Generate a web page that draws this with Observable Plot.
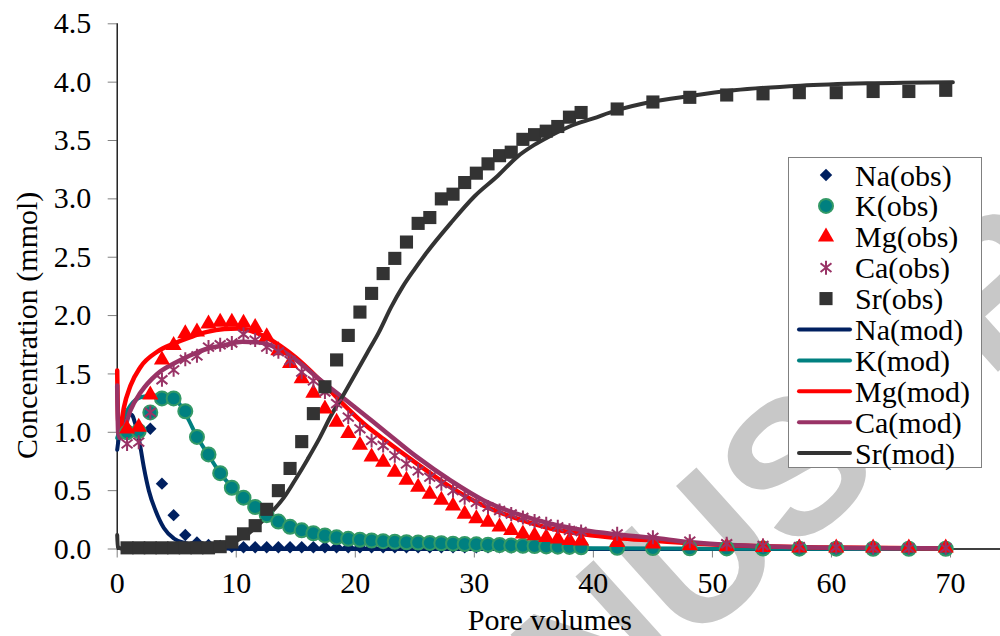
<!DOCTYPE html>
<html><head><meta charset="utf-8">
<script src="https://cdn.jsdelivr.net/npm/d3@7"></script>
<script src="https://cdn.jsdelivr.net/npm/@observablehq/plot@0.6"></script>
<style>
html,body{margin:0;padding:0;background:#fff;}
#wrap{position:relative;width:1000px;height:636px;overflow:hidden;font-family:'Liberation Serif','Times New Roman',serif;}
#wm,#chart,#legend{position:absolute;}
#wm{left:0;top:0;}
#chart{left:0;top:0;}
#legend{left:788px;top:157px;overflow:visible;}
svg text{font-family:'Liberation Serif','Times New Roman',serif;}
#wm text{font-family:'Liberation Sans',Arial,sans-serif;}
</style></head><body><div id="wrap"><svg id="wm" width="1000" height="636"></svg><div id="chart"></div><svg id="legend" width="205" height="312"></svg></div>
<script>
// ---------- data ----------
const xObs = [0.83,1.81,2.78,3.76,4.74,5.72,6.7,7.67,8.65,9.63,10.61,11.59,12.56,13.54,14.52,15.5,16.48,17.45,18.43,19.41,
  20.39,21.37,22.34,23.32,24.3,25.28,26.26,27.23,28.21,29.19,30.17,31.15,32.12,33.1,34.08,35.06,36.04,37.01,37.99,38.97,
  42.0,45.0,48.1,51.2,54.25,57.3,60.4,63.5,66.5,69.6];
const naObs = [0.98,1.0,1.03,0.56,0.29,0.12,0.055,0.035,0.025,0.02,
  0.015,0.015,0.015,0.015,0.015,0.015,0.015,0.015,0.015,0.015,
  0.015,0.015,0.015,0.015,0.015,0.015,0.015,0.015,0.015,0.015,
  0.015,0.015,0.015,0.015,0.015,0.015,0.015,0.015,0.015,0.015,
  0.005,0.005,0.005,0.005,0.005,0.005,0.005,0.005,0.005,0.005];
const kObs = [1.0,1.01,1.17,1.29,1.29,1.18,0.96,0.81,0.65,0.525,
  0.44,0.36,0.29,0.235,0.19,0.16,0.135,0.116,0.10,0.087,
  0.079,0.073,0.067,0.062,0.058,0.055,0.052,0.049,0.046,0.043,
  0.04,0.037,0.034,0.031,0.028,0.025,0.022,0.02,0.018,0.015,
  0.01,0.008,0.006,0.005,0.004,0.003,0.003,0.002,0.002,0.002];
const mgObs = [1.03,1.045,1.32,1.62,1.745,1.845,1.86,1.93,1.945,1.945,
  1.935,1.90,1.82,1.70,1.59,1.46,1.335,1.20,1.087,0.99,
  0.89,0.79,0.745,0.66,0.59,0.53,0.47,0.42,0.37,0.30,
  0.26,0.23,0.19,0.16,0.13,0.116,0.10,0.087,0.075,0.07,
  0.058,0.045,0.03,0.02,0.015,0.01,0.01,0.01,0.01,0.01];
const caObs = [0.90,0.915,1.17,1.45,1.535,1.625,1.655,1.73,1.75,1.765,
  1.84,1.79,1.73,1.69,1.615,1.515,1.44,1.345,1.245,1.13,
  1.03,0.93,0.887,0.80,0.73,0.67,0.615,0.56,0.50,0.44,
  0.40,0.36,0.33,0.30,0.27,0.24,0.216,0.19,0.16,0.15,
  0.13,0.10,0.067,0.045,0.03,0.02,0.015,0.01,0.01,0.01];
const srObs = [0.01,0.01,0.01,0.01,0.01,0.01,0.01,0.01,0.02,0.06,
  0.13,0.20,0.34,0.50,0.69,0.92,1.16,1.39,1.62,1.83,
  2.03,2.19,2.36,2.49,2.63,2.79,2.84,3.00,3.04,3.14,
  3.22,3.30,3.37,3.40,3.51,3.55,3.58,3.62,3.70,3.74,
  3.77,3.83,3.87,3.89,3.90,3.91,3.91,3.92,3.92,3.93];

const naModX = [0,0.2,0.5,0.9,1.2,1.55,1.9,2.24,2.66,3.22,3.92,4.76,5.88,7.0,9,12,70];
const naModY = [0.85,1.0,1.1,1.15,1.15,1.06,0.9,0.70,0.50,0.33,0.18,0.09,0.045,0.015,0.005,0,0];
const kModX = [0,0.3,0.56,1.12,1.96,3.08,4.2,5.04,5.88,6.72,7.7,8.68,9.66,10.64,11.6,12.6,13.5,14.5,15.5,16.5,18,20,22,25,30,35,40,50,70];
const kModY = [0.95,1.05,1.13,1.23,1.30,1.315,1.315,1.27,1.13,0.96,0.80,0.645,0.53,0.43,0.35,0.28,0.225,0.18,0.145,0.12,0.09,0.065,0.05,0.035,0.02,0.012,0.007,0.003,0];
const mgModX = [0,0.08,0.25,0.56,1.12,1.96,3.36,4.76,6.16,7.56,9,10.1,11.2,12.6,13.7,15,17,19,21,22.4,25.2,28,30.8,33.6,36.4,39.2,42,44.8,48,51,54,57,60,65,70];
const mgModY = [1.53,1.1,1.02,1.21,1.40,1.56,1.69,1.76,1.815,1.86,1.885,1.89,1.87,1.81,1.74,1.64,1.45,1.24,1.05,0.94,0.73,0.53,0.37,0.26,0.176,0.127,0.095,0.073,0.05,0.035,0.024,0.017,0.012,0.008,0.005];
const caModX = [0,0.08,0.25,0.56,1.12,1.96,3.36,4.76,6.16,7.56,8.96,10.5,12,13.45,15,16.8,19.6,22.4,25.2,28,30.8,33.6,36.4,39.2,42,45,48,51.1,54.2,57.3,60,65,70];
const caModY = [1.40,1.0,0.95,1.02,1.19,1.34,1.50,1.59,1.66,1.716,1.745,1.775,1.77,1.72,1.62,1.47,1.245,1.016,0.787,0.587,0.416,0.30,0.216,0.16,0.125,0.096,0.06,0.036,0.024,0.015,0.01,0.007,0.005];
const srModX = [0,0.05,0.3,5,8,9,10,11,12,13,14,15,16,17,18,19,20,21,22,23,24,25,26,28,30,32,33.6,35,36.4,38,40,42,44.8,48,51.8,57.4,63,70.2];
const srModY = [0.12,0.02,0.005,0,0.01,0.03,0.07,0.13,0.22,0.32,0.44,0.6,0.77,0.95,1.15,1.32,1.5,1.68,1.86,2.07,2.25,2.40,2.54,2.79,3.02,3.2,3.36,3.46,3.54,3.62,3.69,3.76,3.83,3.88,3.93,3.97,3.99,4.0];

const xTicks = [0,10,20,30,40,50,60,70];
const yTicks = [0,0.5,1,1.5,2,2.5,3,3.5,4,4.5];
const seriesNames = ["Na(obs)","K(obs)","Mg(obs)","Ca(obs)","Sr(obs)","Na(mod)","K(mod)","Mg(mod)","Ca(mod)","Sr(mod)"];
const colors = {Na:"#002060", K:"#008080", Mg:"#FF0000", Ca:"#993366", Sr:"#333333"};

// ---------- helpers ----------
const pts = (xs, ys) => xs.map((x, i) => ({x, y: ys[i]}));
const asterisk = {
  draw(ctx, size) {
    const r = Math.sqrt(size / Math.PI);
    const a = r * 0.78;
    ctx.moveTo(0, -r); ctx.lineTo(0, r);
    ctx.moveTo(-a, -a * 0.8); ctx.lineTo(a, a * 0.8);
    ctx.moveTo(-a, a * 0.8); ctx.lineTo(a, -a * 0.8);
  }
};

const FONT = "'Liberation Serif', 'Times New Roman', serif";
const plot = Plot.plot({
  width: 1000, height: 636,
  marginLeft: 116.7, marginRight: 0, marginTop: 23.3, marginBottom: 87.5,
  style: {fontFamily: FONT, fontSize: "30px", background: "transparent", color: "black"},
  x: {domain: [0, 74.2]},
  y: {domain: [0, 4.5]},
  marks: [
    Plot.axisY({ticks: yTicks, tickFormat: d => d.toFixed(1), tickSize: 9, tickPadding: 17, stroke: "#808080", fill: "black", label: null}),
    Plot.axisX({ticks: xTicks, tickFormat: d => String(d), tickSize: 9, tickPadding: 14, stroke: "#808080", fill: "black", label: null}),
    Plot.text(["Concentration (mmol)"], {frameAnchor: "left", textAnchor: "middle", dx: -90, dy: 39, rotate: -90, fontSize: 30, fill: "black"}),
    Plot.text(["Pore volumes"], {frameAnchor: "bottom", textAnchor: "middle", dy: 81, dx: -9, fontSize: 30, fill: "black"}),
    Plot.ruleX([0], {stroke: "black", strokeWidth: 1.3}),
    Plot.ruleY([0], {stroke: "black", strokeWidth: 1.3}),
    Plot.line(pts(naModX, naModY), {x: "x", y: "y", stroke: colors.Na, strokeWidth: 4, curve: "monotone-x"}),
    Plot.line(pts(kModX, kModY), {x: "x", y: "y", stroke: colors.K, strokeWidth: 4, curve: "monotone-x"}),
    Plot.line(pts(mgModX, mgModY), {x: "x", y: "y", stroke: colors.Mg, strokeWidth: 4.5, curve: "monotone-x"}),
    Plot.line(pts(caModX, caModY), {x: "x", y: "y", stroke: colors.Ca, strokeWidth: 4.5, curve: "monotone-x"}),
    Plot.line(pts(srModX, srModY), {x: "x", y: "y", stroke: colors.Sr, strokeWidth: 4, curve: "monotone-x"}),
    Plot.dot(pts(xObs, naObs), {x: "x", y: "y", symbol: "diamond2", r: 5.6, fill: colors.Na, stroke: "none"}),
    Plot.dot(pts(xObs, kObs), {x: "x", y: "y", symbol: "circle", r: 7, fill: colors.K, stroke: "#339966", strokeWidth: 2}),
    Plot.dot(pts(xObs, mgObs), {x: "x", y: "y", symbol: "triangle", r: 6, fill: colors.Mg, stroke: "none"}),
    Plot.dot(pts(xObs, caObs), {x: "x", y: "y", symbol: asterisk, r: 7, fill: "none", stroke: colors.Ca, strokeWidth: 2}),
    Plot.dot(pts(xObs, srObs), {x: "x", y: "y", symbol: "square", r: 7.4, fill: colors.Sr, stroke: "none"})
  ]
});
document.getElementById("chart").appendChild(plot);

// ---------- watermark ----------
const wm = d3.select("#wm");
wm.append("text")
  .attr("transform", "translate(795,465) rotate(-42)")
  .attr("text-anchor", "middle")
  .attr("font-weight", "bold")
  .attr("font-size", 190)
  .attr("fill", "#c8c8c8")
  .attr("dy", "0.35em")
  .text("MANUSCRIPT");

// ---------- legend ----------
const lg = d3.select("#legend");
lg.append("rect").attr("x", 0.5).attr("y", 0.5).attr("width", 193).attr("height", 310)
  .attr("fill", "white").attr("stroke", "#808080").attr("stroke-width", 1);
const keys = ["Na","K","Mg","Ca","Sr"];
seriesNames.forEach((name, k) => {
  const cy = 18 + k * 30.9;
  const key = keys[k % 5];
  const g = lg.append("g");
  if (k < 5) {
    const sym = [d3.symbolDiamond2, d3.symbolCircle, d3.symbolTriangle, asterisk, d3.symbolSquare][k];
    const r = [5.6, 7, 6, 7, 7.4][k];
    const p = g.append("path").attr("transform", `translate(38,${cy})`)
      .attr("d", d3.symbol(sym, Math.PI * r * r)());
    if (key === "Ca") p.attr("fill", "none").attr("stroke", colors.Ca).attr("stroke-width", 2);
    else if (key === "K") p.attr("fill", colors.K).attr("stroke", "#339966").attr("stroke-width", 2);
    else p.attr("fill", colors[key]);
  } else {
    g.append("line").attr("x1", 11).attr("x2", 62).attr("y1", cy).attr("y2", cy)
      .attr("stroke", colors[key]).attr("stroke-width", 4).attr("stroke-linecap", "round");
  }
  g.append("text").attr("x", 67).attr("y", cy).attr("dy", "0.35em")
    .attr("font-size", 30).attr("fill", "black").text(name);
});
</script></body></html>
